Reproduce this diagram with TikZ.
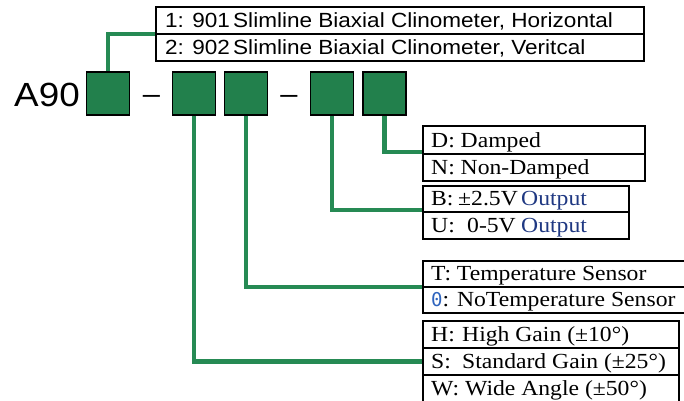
\documentclass[tikz,border=0pt]{standalone}
\usepackage{fontspec}
\usetikzlibrary{backgrounds}
\newfontfamily\sansF{Liberation Sans}[FakeStretch=1.1]
\newfontfamily\serifF{Liberation Serif}[FakeStretch=1.1]
\newfontfamily\monoF{DejaVu Sans Mono}
\definecolor{sqgreen}{RGB}{34,128,76}
\definecolor{lngreen}{RGB}{38,138,84}
\definecolor{outblue}{RGB}{31,56,130}
\definecolor{zeroblue}{RGB}{46,100,190}
\tikzset{
  sq/.style={draw=black, line width=1.2pt, fill=sqgreen, minimum width=43pt, minimum height=43pt, inner sep=0pt, outer sep=0pt},
  rowbox/.style={draw=black, line width=1.3pt, fill=white, anchor=north west, inner sep=0pt, outer sep=0pt},
  conn/.style={draw=lngreen, line width=4.5pt},
  toptxt/.style={anchor=base west, inner sep=0pt, font=\sansF\fontsize{20.5}{24}\selectfont},
  bigtxt/.style={anchor=base west, inner sep=0pt, font=\sansF\fontsize{33.5}{38}\selectfont},
  dashtxt/.style={anchor=base, inner sep=0pt, font=\sansF\fontsize{28}{32}\selectfont},
  optxt/.style={anchor=base west, inner sep=0pt, font=\serifF\fontsize{21.5}{24}\selectfont},
}
\begin{document}
\begin{tikzpicture}[x=1pt,y=-1pt]
\useasboundingbox (0,0) rectangle (684,400);
\clip (0,0) rectangle (684,400);

% title
\node[bigtxt] (a90) at (14,106) {A90};
\node[sq] (sq1) at (108,93.5) {};
\node[dashtxt] (dash1) at (151.5,103) {–};
\node[sq] (sq2) at (194,93.5) {};
\node[sq] (sq3) at (246,93.5) {};
\node[dashtxt] (dash2) at (289,103) {–};
\node[sq] (sq4) at (332,93.5) {};
\node[sq] (sq5) at (384.5,93.5) {};

% top box
\node[rowbox, minimum width=488pt, minimum height=27pt] (r1) at (156,7) {};
\node[rowbox, minimum width=488pt, minimum height=27pt] (r2) at (156,34) {};
\node[toptxt] (r1a) at (165,27) {1: 901};
\node[toptxt] (r1b) at (233,27) {Slimline Biaxial Clinometer, Horizontal};
\node[toptxt] (r2a) at (165,54) {2: 902};
\node[toptxt] (r2b) at (233,54) {Slimline Biaxial Clinometer, Veritcal};

% damping box
\node[rowbox, minimum width=222pt, minimum height=28pt] (rowD) at (423,126) {};
\node[rowbox, minimum width=222pt, minimum height=27pt] (rowN) at (423,154) {};
\node[optxt] (tD) at (431,147) {D: Damped};
\node[optxt] (tN) at (431,174) {N: Non-Damped};

% output box
\node[rowbox, minimum width=206pt, minimum height=26pt] (rowB) at (423,186) {};
\node[rowbox, minimum width=206pt, minimum height=27pt] (rowU) at (423,212) {};
\node[optxt] (tB1) at (431,205) {B:};
\node[optxt] (tB2) at (458,205) {±2.5V};
\node[optxt, text=outblue] (tB3) at (521,205) {Output};
\node[optxt] (tU1) at (431,232) {U:};
\node[optxt] (tU2) at (467,232) {0-5V};
\node[optxt, text=outblue] (tU3) at (521,232) {Output};

% temperature box
\node[rowbox, minimum width=290pt, minimum height=26pt] (rowT) at (423,261) {};
\node[rowbox, minimum width=290pt, minimum height=26pt] (rowZ) at (423,287) {};
\node[optxt] (tT) at (431,280) {T: Temperature Sensor};
\node[optxt] (tZ) at (431,306) {{\monoF\fontsize{19}{22}\selectfont\color{zeroblue}0}: NoTemperature Sensor};

% gain box
\node[rowbox, minimum width=256pt, minimum height=27pt] (rowH) at (423,321) {};
\node[rowbox, minimum width=256pt, minimum height=27pt] (rowS) at (423,348) {};
\node[rowbox, minimum width=256pt, minimum height=27pt] (rowW) at (423,375) {};
\node[optxt] (tH1) at (431,341) {H:};
\node[optxt] (tH2) at (462,341) {High Gain (±10°)};
\node[optxt] (tS1) at (431,368) {S:};
\node[optxt] (tS2) at (462,368) {Standard Gain (±25°)};
\node[optxt] (tW) at (431,395) {W: Wide Angle (±50°)};

% connectors
\begin{scope}[on background layer]
\fill[white] (0,0) rectangle (684,400);
\draw[conn] (sq1.north) |- (r1.south west);
\draw[conn] (sq5.south) |- ([yshift=2pt]rowD.south west);
\draw[conn] (sq4.south) |- ([yshift=2pt]rowB.south west);
\draw[conn] (sq3.south) |- (rowT.south west);
\draw[conn] (sq2.south) |- (rowS.west);
\end{scope}
\end{tikzpicture}
\end{document}
